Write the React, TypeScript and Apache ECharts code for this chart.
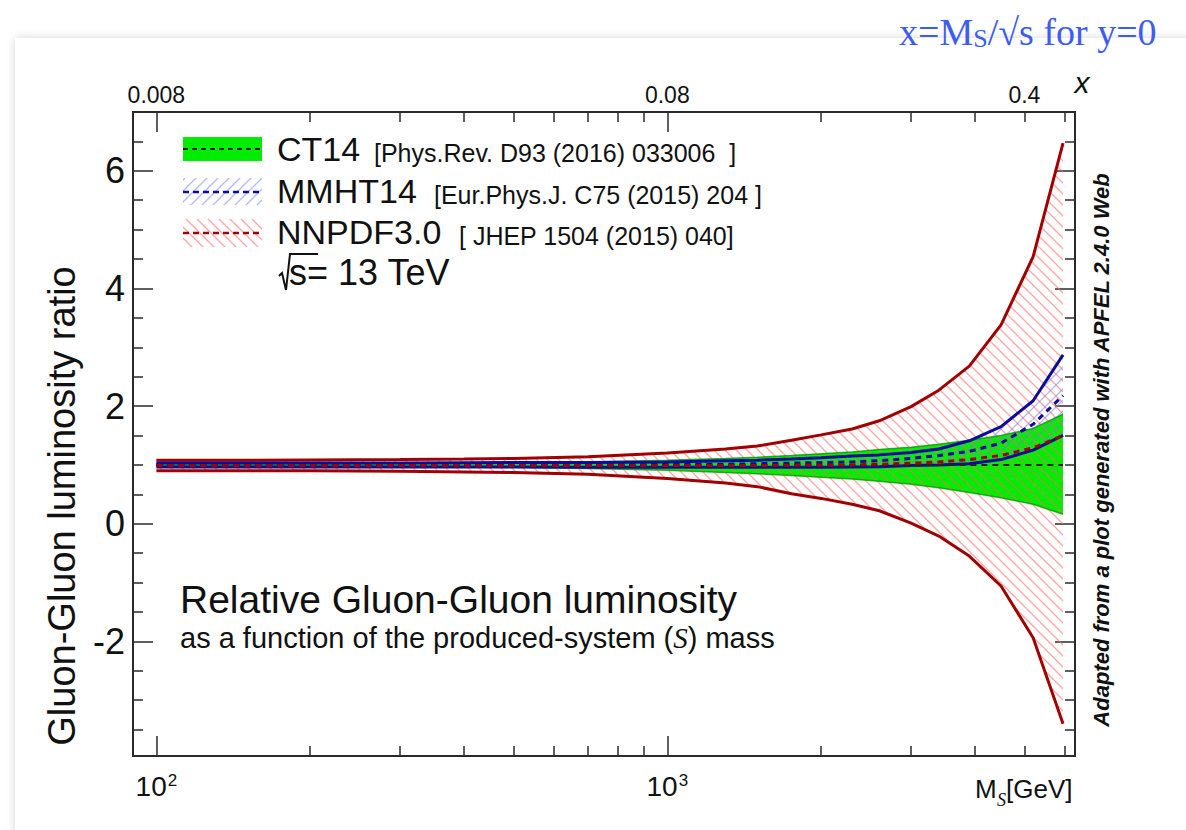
import React, { useEffect, useRef } from 'react';
import * as echarts from 'echarts';

// ---- data ----
const MASS = [100, 150, 200, 300, 400, 500, 700, 1000, 1300, 1500, 1750, 2000, 2300, 2600, 3000, 3400, 3900, 4500, 5200, 5950];

const CT14_UP = [1.02, 1.02, 1.02, 1.025, 1.03, 1.035, 1.05, 1.08, 1.11, 1.13, 1.16, 1.19, 1.22, 1.26, 1.30, 1.35, 1.42, 1.50, 1.62, 1.86];
const CT14_LO = [0.98, 0.98, 0.98, 0.975, 0.97, 0.96, 0.94, 0.91, 0.87, 0.85, 0.82, 0.79, 0.76, 0.72, 0.67, 0.61, 0.53, 0.44, 0.33, 0.16];
const CT14_C = [1, 1, 1, 1, 1, 1, 1, 1, 1, 1, 1, 1, 1, 1, 1, 1, 1, 1, 1, 1];

const MMHT_UP = [1.03, 1.03, 1.03, 1.03, 1.035, 1.04, 1.04, 1.05, 1.07, 1.08, 1.10, 1.12, 1.15, 1.17, 1.21, 1.27, 1.41, 1.65, 2.09, 2.87];
const MMHT_LO = [0.965, 0.965, 0.965, 0.965, 0.965, 0.965, 0.96, 0.96, 0.96, 0.96, 0.96, 0.96, 0.965, 0.97, 0.99, 1.0, 1.02, 1.09, 1.25, 1.50];
const MMHT_C = [1.0, 1.0, 1.0, 1.0, 1.0, 1.0, 1.0, 1.01, 1.01, 1.02, 1.03, 1.04, 1.05, 1.07, 1.11, 1.16, 1.23, 1.37, 1.69, 2.18];

const NNPDF_UP = [1.08, 1.08, 1.085, 1.09, 1.10, 1.11, 1.14, 1.20, 1.27, 1.32, 1.42, 1.51, 1.61, 1.75, 1.99, 2.27, 2.68, 3.38, 4.54, 6.47];
const NNPDF_LO = [0.90, 0.90, 0.90, 0.89, 0.88, 0.87, 0.84, 0.77, 0.69, 0.63, 0.51, 0.43, 0.33, 0.22, 0.01, -0.21, -0.55, -1.06, -1.94, -3.40];
const NNPDF_C = [0.99, 0.99, 0.99, 0.99, 0.99, 0.99, 0.99, 0.99, 0.99, 0.99, 0.995, 1.0, 1.0, 1.01, 1.03, 1.05, 1.09, 1.16, 1.29, 1.50];

// ---- axes ----
const X_MIN = 90;
const X_MAX = 6280;
const Y_MIN = -3.95;
const Y_MAX = 7;
const X_MAJOR = [100, 1000];
const X_MAJOR_LABELS = ['10{s|2}', '10{s|3}'];
const X_MINOR = [200, 300, 400, 500, 600, 700, 800, 900, 2000, 3000, 4000, 5000, 6000];
const TOP_LABEL_MASS = [100, 1000, 5000];
const TOP_LABELS = ['0.008', '0.08', '0.4'];
const Y_MAJOR = [-2, 0, 2, 4, 6];
const Y_MINOR = [-3.5, -3, -2.5, -1.5, -1, -0.5, 0.5, 1, 1.5, 2.5, 3, 3.5, 4.5, 5, 5.5, 6.5];

const FONT = 'Liberation Sans, Arial, Helvetica, sans-serif';
const SERIF = 'Liberation Serif, Times New Roman, serif';
const RED = '#a00000';
const BLUE = '#0b0b9c';
const GREEN = '#00ec00';
const AXIS = '#2a2a2a';
const TXT = '#111111';

const lg = (v: number) => Math.log10(v);

function makeHatch(color: string, dir: 'down' | 'up', size = 11, lw = 1.3) {
  const c = document.createElement('canvas');
  c.width = size;
  c.height = size;
  const ctx = c.getContext('2d')!;
  ctx.strokeStyle = color;
  ctx.lineWidth = lw;
  ctx.beginPath();
  if (dir === 'down') {
    ctx.moveTo(-1, -1); ctx.lineTo(size + 1, size + 1);
    ctx.moveTo(-1, size - 1); ctx.lineTo(1, size + 1);
    ctx.moveTo(size - 1, -1); ctx.lineTo(size + 1, 1);
  } else {
    ctx.moveTo(-1, size + 1); ctx.lineTo(size + 1, -1);
    ctx.moveTo(-1, 1); ctx.lineTo(1, -1);
    ctx.moveTo(size - 1, size + 1); ctx.lineTo(size + 1, size - 1);
  }
  ctx.stroke();
  return c;
}

export default function App() {
  const ref = useRef<HTMLDivElement>(null);

  useEffect(() => {
    const el = ref.current!;
    const chart = echarts.init(el, undefined, { renderer: 'svg' });

    const pinkHatch: any = { image: makeHatch('rgba(255,105,105,0.6)', 'down'), repeat: 'repeat' };
    const blueHatch: any = { image: makeHatch('rgba(110,130,255,0.55)', 'up'), repeat: 'repeat' };

    const band = (name: string, up: number[], lo: number[], fill: any, z: number) => ({
      type: 'custom',
      name,
      coordinateSystem: 'cartesian2d',
      xAxisIndex: 0,
      yAxisIndex: 0,
      silent: true,
      z,
      data: MASS.map((m, i) => [m, lo[i], up[i]]),
      encode: { x: 0, y: [1, 2] },
      renderItem: (params: any, api: any) => {
        if (params.dataIndex !== 0) return null;
        const pts: number[][] = [];
        for (let i = 0; i < MASS.length; i++) pts.push(api.coord([MASS[i], up[i]]));
        for (let i = MASS.length - 1; i >= 0; i--) pts.push(api.coord([MASS[i], lo[i]]));
        return { type: 'polygon', shape: { points: pts }, style: { fill, stroke: null } };
      },
    });

    const line = (name: string, vals: number[], color: string, width: number, type: any, z: number, opacity = 1) => ({
      type: 'line',
      name,
      xAxisIndex: 0,
      yAxisIndex: 0,
      data: MASS.map((m, i) => [m, vals[i]]),
      symbol: 'none',
      silent: true,
      z,
      lineStyle: { color, width, type, opacity, cap: 'butt' },
    });

    const LX_MIN = lg(X_MIN);
    const LX_MAX = lg(X_MAX);
    const tickStyle = { color: AXIS, width: 1.5 };
    const noLine = { show: false, onZero: false };
    const noSplit = { show: false };

    const xBase = { type: 'value', min: LX_MIN, max: LX_MAX, axisLine: noLine, splitLine: noSplit };
    const yBase = { type: 'value', min: Y_MIN, max: Y_MAX, axisLine: noLine, splitLine: noSplit };

    const option: any = {
      animation: false,
      backgroundColor: '#ffffff',
      grid: {
        left: 133, right: 111, top: 112, bottom: 74,
        containLabel: false, outerBoundsMode: 'none',
        show: true, borderColor: AXIS, borderWidth: 2, backgroundColor: 'transparent',
      },
      xAxis: [
        {
          type: 'log', logBase: 10, min: X_MIN, max: X_MAX, position: 'bottom',
          axisLine: noLine, axisTick: { show: false }, axisLabel: { show: false }, splitLine: noSplit,
        },
        {
          ...xBase, position: 'bottom',
          axisTick: { show: true, inside: true, length: 10, customValues: X_MINOR.map(lg), lineStyle: tickStyle },
          axisLabel: { show: false },
        },
        {
          ...xBase, position: 'bottom',
          axisTick: { show: true, inside: true, length: 20, customValues: X_MAJOR.map(lg), lineStyle: tickStyle },
          axisLabel: {
            show: true, customValues: X_MAJOR.map(lg), margin: 16,
            formatter: (v: number) => {
              const m = Math.round(Math.pow(10, v));
              const idx = X_MAJOR.indexOf(m);
              return idx >= 0 ? X_MAJOR_LABELS[idx] : '';
            },
            color: TXT, fontFamily: FONT, fontSize: 28,
            rich: { s: { fontFamily: FONT, fontSize: 17, color: TXT, verticalAlign: 'top', padding: [0, 0, 12, 1] } },
          },
        },
        {
          ...xBase, position: 'top',
          axisTick: { show: true, inside: true, length: 10, customValues: X_MINOR.map(lg), lineStyle: tickStyle },
          axisLabel: { show: false },
        },
        {
          ...xBase, position: 'top',
          axisTick: { show: true, inside: true, length: 20, customValues: X_MAJOR.map(lg), lineStyle: tickStyle },
          axisLabel: {
            show: true, customValues: TOP_LABEL_MASS.map(lg), margin: 6,
            formatter: (v: number) => {
              const m = Math.round(Math.pow(10, v));
              const idx = TOP_LABEL_MASS.indexOf(m);
              return idx >= 0 ? TOP_LABELS[idx] : '';
            },
            color: TXT, fontFamily: FONT, fontSize: 23,
          },
        },
      ],
      yAxis: [
        {
          ...yBase, position: 'left',
          axisTick: { show: true, inside: true, length: 20, customValues: Y_MAJOR, lineStyle: tickStyle },
          axisLabel: {
            show: true, customValues: Y_MAJOR, margin: 8,
            formatter: (v: number) => String(Math.round(v)),
            color: TXT, fontFamily: FONT, fontSize: 36,
          },
        },
        {
          ...yBase, position: 'left',
          axisTick: { show: true, inside: true, length: 10, customValues: Y_MINOR, lineStyle: tickStyle },
          axisLabel: { show: false },
        },
        {
          ...yBase, position: 'right',
          axisTick: { show: true, inside: true, length: 20, customValues: Y_MAJOR, lineStyle: tickStyle },
          axisLabel: { show: false },
        },
        {
          ...yBase, position: 'right',
          axisTick: { show: true, inside: true, length: 10, customValues: Y_MINOR, lineStyle: tickStyle },
          axisLabel: { show: false },
        },
      ],
      series: [
        band('CT14 band', CT14_UP, CT14_LO, GREEN, 1),
        band('NNPDF3.0 band', NNPDF_UP, NNPDF_LO, pinkHatch, 2),
        band('MMHT14 band', MMHT_UP, MMHT_LO, blueHatch, 2),
        line('CT14 upper', CT14_UP, '#009a00', 1.5, 'solid', 3, 0.8),
        line('CT14 lower', CT14_LO, '#009a00', 1.5, 'solid', 3, 0.8),
        line('NNPDF3.0 upper', NNPDF_UP, RED, 3, 'solid', 4),
        line('NNPDF3.0 lower', NNPDF_LO, RED, 3, 'solid', 4),
        line('MMHT14 upper', MMHT_UP, BLUE, 3, 'solid', 5),
        line('MMHT14 lower', MMHT_LO, BLUE, 3, 'solid', 5),
        line('CT14', CT14_C, '#222', 2, [6, 5], 6),
        line('MMHT14', MMHT_C, BLUE, 3, [6, 5], 7),
        line('NNPDF3.0', NNPDF_C, RED, 3, [6, 5], 8),
      ],
      graphic: [
        {
          type: 'rect', z: -10, silent: true,
          shape: { x: 15, y: 38, width: 1200, height: 820 },
          style: { fill: '#ffffff', shadowBlur: 8, shadowColor: 'rgba(0,0,0,0.16)' },
        },
        {
          type: 'text', x: 899, y: 32,
          style: {
            text: '{a|x=M}{b|S}{a|/√s for y=0}', verticalAlign: 'middle', align: 'left',
            rich: {
              a: { fontFamily: SERIF, fontSize: 38, fill: '#3d5cf2', color: '#3d5cf2' },
              b: { fontFamily: SERIF, fontSize: 26, fill: '#3d5cf2', color: '#3d5cf2', verticalAlign: 'bottom' },
            },
          },
        },
        {
          type: 'text', x: 1082, y: 82,
          style: { text: 'x', fontFamily: FONT, fontSize: 30, fontStyle: 'italic', fill: TXT, align: 'center', verticalAlign: 'middle' },
        },
        {
          type: 'text', x: 62, y: 506, rotation: Math.PI / 2,
          style: { text: 'Gluon-Gluon luminosity ratio', fontFamily: FONT, fontSize: 38, fill: TXT, align: 'center', verticalAlign: 'middle' },
        },
        {
          type: 'text', x: 1101, y: 450, rotation: Math.PI / 2,
          style: { text: 'Adapted from a plot generated with APFEL 2.4.0 Web', fontFamily: FONT, fontSize: 22, fontWeight: 'bold', fontStyle: 'italic', fill: TXT, align: 'center', verticalAlign: 'middle' },
        },
        // bottom axis title
        { type: 'text', x: 975, y: 789, style: { text: 'M', fontFamily: FONT, fontSize: 26, fill: TXT, align: 'left', verticalAlign: 'middle' } },
        { type: 'text', x: 997, y: 800, style: { text: 'S', fontFamily: SERIF, fontSize: 18, fontStyle: 'italic', fill: TXT, align: 'left', verticalAlign: 'middle' } },
        { type: 'text', x: 1006, y: 789, style: { text: '[GeV]', fontFamily: FONT, fontSize: 26, fill: TXT, align: 'left', verticalAlign: 'middle' } },
        // legend
        { type: 'rect', shape: { x: 183, y: 137, width: 79, height: 24 }, style: { fill: GREEN } },
        { type: 'line', shape: { x1: 183, y1: 149, x2: 262, y2: 149 }, style: { stroke: '#222', lineWidth: 2, lineDash: [5, 4] } },
        { type: 'rect', shape: { x: 183, y: 178, width: 79, height: 27 }, style: { fill: blueHatch } },
        { type: 'line', shape: { x1: 183, y1: 192, x2: 262, y2: 192 }, style: { stroke: BLUE, lineWidth: 2.5, lineDash: [6, 4] } },
        { type: 'rect', shape: { x: 183, y: 219, width: 79, height: 28 }, style: { fill: pinkHatch } },
        { type: 'line', shape: { x1: 183, y1: 233, x2: 262, y2: 233 }, style: { stroke: RED, lineWidth: 2.5, lineDash: [6, 4] } },
        { type: 'text', x: 277, y: 149, style: { text: 'CT14', fontFamily: FONT, fontSize: 34, fill: TXT, verticalAlign: 'middle' } },
        { type: 'text', x: 374, y: 153, style: { text: '[Phys.Rev. D93 (2016) 033006  ]', fontFamily: FONT, fontSize: 25, fill: TXT, verticalAlign: 'middle' } },
        { type: 'text', x: 277, y: 191, style: { text: 'MMHT14', fontFamily: FONT, fontSize: 34, fill: TXT, verticalAlign: 'middle' } },
        { type: 'text', x: 434, y: 195, style: { text: '[Eur.Phys.J. C75 (2015) 204 ]', fontFamily: FONT, fontSize: 25, fill: TXT, verticalAlign: 'middle' } },
        { type: 'text', x: 277, y: 232, style: { text: 'NNPDF3.0', fontFamily: FONT, fontSize: 34, fill: TXT, verticalAlign: 'middle' } },
        { type: 'text', x: 459, y: 236, style: { text: '[ JHEP 1504 (2015) 040]', fontFamily: FONT, fontSize: 25, fill: TXT, verticalAlign: 'middle' } },
        // sqrt(s) = 13 TeV : radical drawn as a polyline, text after it
        {
          type: 'polyline',
          shape: { points: [[279, 276], [282, 273], [286, 290], [290, 254], [318, 254]] },
          style: { stroke: TXT, lineWidth: 2, fill: null },
        },
        { type: 'text', x: 289, y: 272, style: { text: 's= 13 TeV', fontFamily: FONT, fontSize: 36, fill: TXT, verticalAlign: 'middle' } },
        // annotation
        { type: 'text', x: 180, y: 599, style: { text: 'Relative Gluon-Gluon luminosity', fontFamily: FONT, fontSize: 39, fill: TXT, verticalAlign: 'middle' } },
        {
          type: 'text', x: 180, y: 638,
          style: {
            text: '{a|as a function of the produced-system (}{s|S}{a|) mass}', verticalAlign: 'middle',
            rich: {
              a: { fontFamily: FONT, fontSize: 29, fill: TXT, color: TXT },
              s: { fontFamily: SERIF, fontSize: 29, fontStyle: 'italic', fill: TXT, color: TXT },
            },
          },
        },
      ],
    };

    chart.setOption(option);
    return () => chart.dispose();
  }, []);

  return (
    <div
      ref={ref}
      style={{ position: 'fixed', left: 0, top: 0, width: 1186, height: 830, background: '#ffffff' }}
    />
  );
}
